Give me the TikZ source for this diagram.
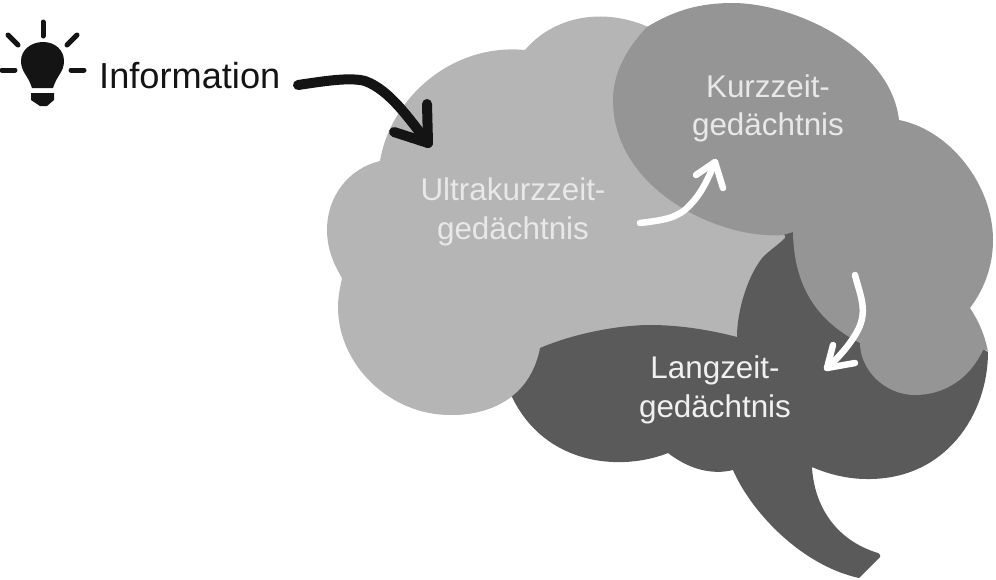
\documentclass[tikz,border=0pt]{standalone}
\usepackage{fontspec}
\setmainfont{Liberation Sans}
\definecolor{lightlobe}{HTML}{B5B5B5}
\definecolor{midlobe}{HTML}{959595}
\definecolor{darklobe}{HTML}{5A5A5A}
\definecolor{inkblack}{HTML}{141414}
\definecolor{paletext}{HTML}{E8E8E8}
\definecolor{brighttext}{HTML}{F0F0F0}
\tikzset{
  lobetext/.style={inner sep=0pt,align=center,font=\fontsize{31.4}{38.5}\selectfont},
  flowarrow/.style={line width=#1,line cap=round,line join=round},
  ray/.style={draw=inkblack,line width=5pt,line cap=round}
}
\begin{document}
\begin{tikzpicture}[x=1pt,y=-1pt]
\useasboundingbox (0,0) rectangle (996,579);
% light lobe
\fill[lightlobe] (380,161) .. controls (390,100) and (450,43) .. (525,50)
 .. controls (550,20) and (600,3) .. (655,30)
 -- (800,240) -- (760,340) -- (540,348)
 .. controls (530,398) and (490,415) .. (450,415)
 .. controls (390,415) and (338,365) .. (338,307)
 .. controls (338,297) and (340,288) .. (342,278)
 .. controls (333,263) and (327,248) .. (327,230)
 .. controls (327,195) and (350,168) .. (380,161) -- cycle;
% dark lobe
\fill[darklobe] (540,348) .. controls (575,333) and (620,325) .. (650,325)
 .. controls (680,325) and (710,330) .. (737,337)
 .. controls (737,310) and (748,275) .. (763,257)
 .. controls (770,250) and (778,245) .. (785,238)
 .. controls (786,235) and (783,233) .. (780,232)
 .. controls (783,228) and (790,226) .. (795,232)
 -- (900,300) -- (988,352)
 .. controls (988,415) and (945,480) .. (867,479)
 .. controls (847,479) and (828,474) .. (812,467)
 .. controls (814,505) and (835,540) .. (878,553)
 .. controls (880,554) and (881,556) .. (880,557)
 -- (859,578)
 .. controls (800,565) and (750,510) .. (733,470)
 .. controls (713,475) and (690,470) .. (668,453)
 .. controls (620,472) and (545,465) .. (512,397)
 -- (500,380) -- cycle;
% light lobe edge lying over the dark lobe
\fill[lightlobe] (540,348) .. controls (530,398) and (490,415) .. (450,415) -- (450,340) -- cycle;
% mid lobe
\fill[midlobe] (647,27) .. controls (675,10) and (700,3) .. (733,3)
 .. controls (790,3) and (890,45) .. (899,120)
 .. controls (950,130) and (993,185) .. (993,240)
 .. controls (993,265) and (985,288) .. (970,308)
 .. controls (978,320) and (985,335) .. (988,352)
 .. controls (987,350) and (985,349) .. (983,350)
 .. controls (970,378) and (945,395) .. (915,395)
 .. controls (885,395) and (860,370) .. (860,343)
 .. controls (825,325) and (794,295) .. (793,232)
 -- (783,235)
 .. controls (720,240) and (613,190) .. (613,100)
 .. controls (613,75) and (625,50) .. (647,27) -- cycle;
% bulb
\fill[inkblack] (32,88) .. controls (28,75) and (21,72) .. (21,61)
 .. controls (21,50) and (31,42) .. (43,42)
 .. controls (55,42) and (64,50) .. (64,61)
 .. controls (64,72) and (57,75) .. (53,88) -- cycle;
\fill[inkblack] (31,93) -- (54,93) -- (54,100) -- (47,106) -- (40,106) -- (31,100) -- cycle;
\draw[ray] (43,22) -- (43,36);
\draw[ray] (8,35) -- (18,45);
\draw[ray] (77,35) -- (67,45);
\draw[ray] (2,70) -- (15,70);
\draw[ray] (71,70) -- (84,70);
% labels
\node[anchor=base west,inner sep=0pt,text=inkblack,font=\fontsize{36.2}{40}\selectfont] (info) at (99,88) {Information};
\node[lobetext,text=paletext] (ultra) at (513,212) {Ultrakurzzeit-\\gedächtnis};
\node[lobetext,text=paletext] (kurz) at (768,108.5) {Kurzzeit-\\gedächtnis};
\node[lobetext,text=brighttext] (lang) at (715,390) {Langzeit-\\gedächtnis};
% arrows
\coordinate (a1s) at (298,85); \coordinate (a1e) at (428,143);
\coordinate (a2s) at (640,223); \coordinate (a2e) at (715,162);
\coordinate (a3s) at (855,275); \coordinate (a3e) at (827,368);
\draw[inkblack,flowarrow=10pt] (a1s) .. controls (325,81) and (350,77) .. (365,81) .. controls (390,90) and (410,120) .. (a1e);
\draw[inkblack,flowarrow=10pt] (427,104) -- (a1e) -- (394,132);
\draw[white,flowarrow=6.5pt] (a2s) .. controls (665,220) and (678,218) .. (690,205) .. controls (700,195) and (708,180) .. (a2e);
\draw[white,flowarrow=6.5pt] (696,175) -- (a2e) -- (723,188);
\draw[white,flowarrow=6.5pt] (a3s) .. controls (860,295) and (868,310) .. (858,330) .. controls (850,345) and (838,358) .. (a3e);
\draw[white,flowarrow=6.5pt] (833,345) -- (a3e) -- (855,363);
\end{tikzpicture}
\end{document}
